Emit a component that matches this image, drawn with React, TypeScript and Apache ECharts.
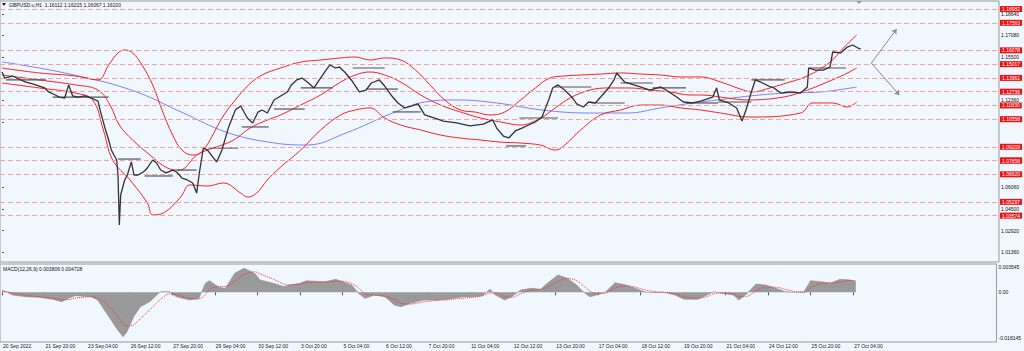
import React, { useEffect, useRef } from "react";
import * as echarts from "echarts";

const TITLE = "GBPUSD.u,H1  1.16112 1.16215 1.16067 1.16100";
const MACD_TITLE = "MACD(12,26,9) 0.003806 0.004728";
const TIME_LABELS = ["20 Sep 2022", "21 Sep 20:00", "23 Sep 04:00", "26 Sep 12:00", "27 Sep 20:00", "29 Sep 04:00", "30 Sep 12:00", "3 Oct 20:00", "5 Oct 04:00", "6 Oct 12:00", "7 Oct 20:00", "11 Oct 04:00", "12 Oct 12:00", "13 Oct 20:00", "17 Oct 04:00", "18 Oct 12:00", "19 Oct 20:00", "21 Oct 04:00", "24 Oct 12:00", "25 Oct 20:00", "27 Oct 04:00"];
const BARS_PER_LABEL = 32;
// visible price scale labels (the others are hidden under the red level tags)
const PRICE_TICKS = [1.1864, 1.1708, 1.155, 1.1236, 1.108, 1.0606, 1.045, 1.0292, 1.0136];
const RAISED_TICKS = [1.108];
const LEVELS = [1.18982, 1.17563, 1.16078, 1.15017, 1.13961, 1.12736, 1.1183, 1.10558, 1.09209, 1.08321, 1.07658, 1.0662, 1.05297, 1.03574];
const MACD_TICKS = [0.00344, 0, -0.0062];
const MACD_TICK_TEXT = ["0.003545", "0.00", "-0.018145"];

// [bar, price]
const PRICE = [[0,1.1443],[2,1.1399],[8,1.1414],[14,1.1385],[18,1.137],[23,1.1356],[28,1.1341],[32,1.1327],[35,1.1298],[40,1.1276],[43,1.1261],[47,1.1254],[50,1.1349],[53,1.1269],[57,1.1261],[62,1.1269],[67,1.1254],[72,1.1232],[74,1.1152],[77,1.1044],[80,1.0949],[82,1.0877],[84,1.084],[86,1.0804],[87,1.0695],[88,1.0332],[89,1.055],[92,1.0659],[94,1.0695],[97,1.079],[99,1.0695],[102,1.0695],[106,1.0717],[109,1.0746],[113,1.0804],[116,1.0782],[119,1.0731],[123,1.071],[128,1.0731],[131,1.0717],[135,1.0673],[139,1.0659],[143,1.0637],[146,1.0564],[148,1.071],[151,1.0891],[154,1.0877],[158,1.0826],[161,1.079],[165,1.0877],[170,1.1044],[175,1.1167],[179,1.1196],[184,1.1109],[188,1.1073],[192,1.1152],[195,1.1167],[199,1.1145],[204,1.124],[209,1.1269],[214,1.1298],[217,1.1349],[221,1.1385],[225,1.1399],[229,1.137],[234,1.1327],[238,1.1385],[243,1.1457],[246,1.1494],[250,1.1472],[253,1.1479],[257,1.1443],[262,1.1385],[268,1.1298],[273,1.1312],[277,1.1363],[283,1.1385],[287,1.1341],[293,1.1261],[297,1.1218],[302,1.1182],[307,1.1196],[312,1.1211],[317,1.1131],[324,1.1109],[331,1.1087],[341,1.1073],[351,1.1051],[361,1.1065],[368,1.1095],[371,1.1036],[376,1.0978],[380,1.0964],[385,1.1015],[390,1.1036],[395,1.1058],[400,1.108],[405,1.1116],[410,1.124],[413,1.1327],[417,1.1349],[422,1.1312],[428,1.1254],[431,1.1211],[436,1.1189],[440,1.1225],[445,1.1218],[449,1.1261],[455,1.1327],[459,1.1385],[461,1.1436],[467,1.137],[474,1.1349],[481,1.1327],[486,1.1312],[494,1.1334],[498,1.1312],[506,1.1261],[511,1.1225],[518,1.1218],[524,1.1232],[533,1.1261],[536,1.1327],[538,1.124],[545,1.1218],[551,1.1182],[555,1.1087],[558,1.1167],[562,1.1298],[565,1.1385],[569,1.137],[575,1.1341],[579,1.1327],[584,1.129],[591,1.1298],[599,1.129],[604,1.1334],[605,1.1472],[610,1.1457],[616,1.1457],[621,1.1479],[623,1.1588],[629,1.1581],[634,1.1624],[638,1.1639],[642,1.1617],[644,1.161]];

const BB_UPPER = [[0,1.1472],[28,1.1436],[55,1.1414],[72,1.1385],[80,1.1494],[87,1.1581],[92,1.1603],[98,1.1581],[105,1.1494],[113,1.1349],[120,1.1167],[128,1.0985],[135,1.0876],[143,1.084],[149,1.0855],[156,1.0949],[165,1.1109],[175,1.124],[185,1.1349],[195,1.1421],[209,1.1472],[224,1.1515],[239,1.153],[254,1.1545],[265,1.1552],[276,1.153],[287,1.1545],[299,1.153],[310,1.1458],[321,1.1349],[332,1.124],[344,1.1167],[355,1.1152],[366,1.1131],[377,1.1152],[389,1.124],[400,1.1327],[411,1.1399],[422,1.1414],[434,1.1421],[449,1.1428],[464,1.1436],[479,1.1428],[494,1.1421],[509,1.1407],[524,1.1407],[539,1.137],[556,1.1312],[563,1.1298],[576,1.1327],[586,1.1356],[604,1.1414],[621,1.1515],[631,1.1617],[641,1.1712]];
const BB_MIDDLE = [[0,1.1421],[28,1.1385],[55,1.1349],[72,1.1312],[81,1.1203],[88,1.1058],[98,1.0949],[111,1.084],[124,1.0746],[133,1.0731],[146,1.084],[154,1.0876],[169,1.0927],[176,1.0963],[186,1.1036],[199,1.1094],[209,1.1131],[224,1.1203],[239,1.1276],[254,1.137],[265,1.1421],[276,1.1443],[287,1.1421],[299,1.137],[314,1.1276],[329,1.1203],[344,1.1152],[359,1.1109],[374,1.108],[389,1.1058],[404,1.1109],[415,1.1182],[426,1.1254],[441,1.1312],[456,1.1327],[471,1.1327],[486,1.1312],[501,1.1298],[516,1.1276],[524,1.1276],[544,1.1254],[559,1.124],[586,1.1261],[604,1.1312],[619,1.137],[631,1.1421],[641,1.1472]];
const BB_LOWER = [[0,1.1363],[28,1.1327],[55,1.129],[68,1.124],[76,1.1022],[83,1.0804],[96,1.0659],[109,1.0492],[113,1.0405],[121,1.0419],[134,1.0535],[141,1.0623],[154,1.0615],[166,1.0637],[179,1.0564],[184,1.0535],[191,1.0564],[199,1.0659],[209,1.0753],[224,1.0876],[239,1.1022],[254,1.1131],[265,1.1167],[276,1.1182],[287,1.1109],[299,1.1058],[314,1.1022],[329,1.0985],[344,1.0963],[359,1.0949],[374,1.0934],[389,1.0927],[404,1.0912],[415,1.0876],[422,1.0912],[434,1.1022],[449,1.1131],[464,1.1167],[479,1.1203],[494,1.1203],[509,1.1182],[524,1.1167],[539,1.1145],[561,1.1116],[599,1.1145],[608,1.1218],[623,1.1218],[634,1.1189],[641,1.1225]];
const MA_SLOW = [[0,1.1516],[47,1.1436],[97,1.1312],[136,1.1145],[170,1.1],[204,1.0928],[229,1.0913],[258,1.1],[293,1.1145],[317,1.1225],[341,1.124],[371,1.1218],[405,1.1167],[440,1.1145],[469,1.1145],[494,1.1182],[518,1.1218],[537,1.124],[561,1.1269],[587,1.129],[614,1.1298],[641,1.1334]];

// [startBar, endBar, price]
const SEGMENTS = [[3,33,1.1385],[38,80,1.1261],[87,104,1.0811],[107,128,1.0688],[131,146,1.0731],[155,177,1.0891],[180,200,1.1044],[204,227,1.1174],[224,248,1.1327],[263,287,1.1472],[273,297,1.1319],[293,314,1.1153],[378,393,1.0906],[388,417,1.1109],[415,442,1.1334],[442,467,1.1218],[464,488,1.1363],[488,513,1.1327],[513,537,1.1218],[537,562,1.1225],[562,587,1.1385],[606,633,1.1472]];

const MACD_MAIN = [[0,0.00022],[3,0.00009],[8,-0.00037],[18,-0.0006],[28,-0.00068],[38,-0.00095],[45,-0.00127],[50,-0.00082],[55,-0.00046],[67,-0.0006],[72,-0.00105],[77,-0.00241],[82,-0.00377],[87,-0.00513],[91,-0.00604],[94,-0.00536],[99,-0.00332],[104,-0.00196],[111,-0.00128],[119,0.00008],[126,0.00008],[131,-0.0006],[141,-0.00105],[148,-0.00082],[153,0.00122],[156,0.00158],[163,0.00068],[168,0.00054],[175,0.00258],[182,0.00326],[190,0.00258],[194,0.00167],[204,0.00122],[212,0.00077],[216,0.00099],[224,0.00122],[229,0.00158],[239,0.00144],[243,0.00144],[251,0.00176],[256,0.00144],[263,0.00099],[268,-0.00014],[273,-0.00082],[280,-0.00037],[288,-0.0006],[295,-0.00173],[300,-0.00196],[307,-0.0015],[317,-0.00105],[327,-0.00105],[336,-0.00091],[346,-0.0006],[353,-0.0006],[361,-0.00046],[367,0.00041],[371,-0.00037],[378,-0.00105],[383,-0.0006],[390,0.00031],[398,0.00054],[405,0.00041],[410,0.00122],[418,0.00235],[425,0.0019],[432,0.00099],[437,0.00008],[442,-0.0006],[447,-0.00037],[454,0.00008],[461,0.00131],[469,0.00099],[476,0.00054],[484,0],[491,-0.00005],[498,0],[506,-0.00037],[513,-0.00095],[523,-0.00095],[530,-0.00037],[535,0.00008],[542,-0.00014],[550,-0.00037],[554,-0.00105],[559,-0.00037],[567,0.00113],[574,0.00099],[582,0.00054],[589,0.00008],[596,0],[603,0.00008],[608,0.00158],[616,0.00144],[623,0.00122],[630,0.00176],[638,0.00167],[642,0.00144]];
const MACD_SIGNAL = [[0,0.0002],[8,-0.0001],[18,-0.0004],[28,-0.0006],[38,-0.0008],[45,-0.001],[50,-0.001],[55,-0.0008],[67,-0.0006],[72,-0.0008],[77,-0.0013],[82,-0.0022],[87,-0.0033],[91,-0.0042],[94,-0.0046],[99,-0.0044],[104,-0.0036],[111,-0.0024],[119,-0.001],[126,-0.0002],[131,-0.0003],[141,-0.0008],[148,-0.0009],[153,-0.0003],[156,0.0004],[163,0.0008],[168,0.0008],[175,0.0015],[182,0.0024],[190,0.0028],[194,0.0025],[204,0.0018],[212,0.0011],[216,0.001],[224,0.0011],[229,0.0013],[239,0.0014],[243,0.0014],[251,0.0015],[256,0.0015],[263,0.0012],[268,0.0006],[273,-0.0002],[280,-0.0004],[288,-0.0005],[295,-0.001],[300,-0.0015],[307,-0.0016],[317,-0.0013],[327,-0.0011],[336,-0.001],[346,-0.0008],[353,-0.0007],[361,-0.0005],[367,-0.0001],[371,-0.0001],[378,-0.0006],[383,-0.0007],[390,-0.0002],[398,0.0003],[405,0.0004],[410,0.0007],[418,0.0015],[425,0.0019],[432,0.0016],[437,0.0009],[442,0.0002],[447,-0.0002],[454,-0.0001],[461,0.0006],[469,0.0009],[476,0.0007],[484,0.0003],[491,0.0001],[498,0],[506,-0.0002],[513,-0.0006],[523,-0.0008],[530,-0.0006],[535,-0.0002],[542,-0.0001],[550,-0.0002],[554,-0.0006],[559,-0.0006],[567,0.0002],[574,0.0007],[582,0.0007],[589,0.0004],[596,0.0001],[603,0],[608,0.0007],[616,0.0012],[623,0.0013],[630,0.0014],[638,0.0016],[642,0.0016]];

// forecast arrows: [fromBar, fromPrice, toBar, toPrice]
const ARROWS = [[652, 1.1508, 671, 1.1755], [652, 1.1508, 673, 1.1276]];

const FONT = "Liberation Sans";
const BG = "#F0F7FE";

export default function App() {
  const ref = useRef<HTMLDivElement>(null);
  useEffect(() => {
    document.body.style.margin = "0";
    const chart = echarts.init(ref.current!, null, { renderer: "svg" });
    const labelTicks = TIME_LABELS.map((_, i) => i * BARS_PER_LABEL);
    const xBase = { type: "value", min: -1.5, max: 747.75, splitLine: { show: false } };
    chart.setOption({
      animation: false,
      backgroundColor: BG,
      textStyle: { fontFamily: FONT },
      grid: [
        { left: 0, right: 25, top: 1, height: 261, show: true, borderColor: "#9a9a9a", borderWidth: 1, backgroundColor: BG },
        { left: 0, right: 25, top: 264, height: 78, show: true, borderColor: "#9a9a9a", borderWidth: 1, backgroundColor: BG },
      ],
      xAxis: [
        { ...xBase, gridIndex: 0, axisLine: { show: false }, axisTick: { show: false }, axisLabel: { show: false } },
        {
          ...xBase, gridIndex: 1, axisLine: { show: false },
          axisTick: { show: true, customValues: labelTicks, length: 3, lineStyle: { color: "#555" } },
          axisLabel: { show: true, customValues: labelTicks, formatter: (v: number) => TIME_LABELS[Math.round(v / BARS_PER_LABEL)] ?? "", align: "left", fontSize: 5, color: "#222", margin: 1, padding: [0, 0, 0, 1], hideOverlap: false },
        },
      ],
      yAxis: [
        {
          gridIndex: 0, type: "value", position: "right", min: 1.00634, max: 1.19584, splitLine: { show: false }, axisLine: { show: false },
          axisTick: { show: true, customValues: PRICE_TICKS, length: 2, lineStyle: { color: "#555" } },
          axisLabel: {
            customValues: PRICE_TICKS,
            formatter: (v: number) => (RAISED_TICKS.some((t) => Math.abs(t - v) < 1e-6) ? `{up|${v.toFixed(5)}}` : v.toFixed(5)),
            rich: { up: { fontSize: 5, color: "#111", padding: [0, 0, 7, 0], fontFamily: FONT } },
            fontSize: 5, color: "#111", margin: 2, lineHeight: 5,
          },
        },
        {
          gridIndex: 1, type: "value", position: "right", min: -0.00676, max: 0.00385, splitLine: { show: false }, axisLine: { show: false },
          axisTick: { show: false },
          axisLabel: { customValues: MACD_TICKS, formatter: (v: number) => MACD_TICK_TEXT[MACD_TICKS.findIndex((t) => Math.abs(t - v) < 1e-6)] ?? "", fontSize: 5, color: "#111", margin: 2 },
        },
      ],
      series: [
        {
          type: "line", xAxisIndex: 0, yAxisIndex: 0, data: [], z: 1,
          markLine: {
            silent: true, symbol: "none",
            lineStyle: { color: "#F4A3A3", width: 1, type: [5, 3] },
            label: { show: true, position: "end", distance: 1, formatter: "{b}", backgroundColor: "#F01010", color: "#fff", fontSize: 5, lineHeight: 5, padding: [0.5, 2, 0.5, 2], fontFamily: FONT },
            data: LEVELS.map((v) => ({ yAxis: v, name: v.toFixed(5) })),
          },
        },
        { type: "line", xAxisIndex: 0, yAxisIndex: 0, data: MA_SLOW, symbol: "none", smooth: 0.4, lineStyle: { color: "#8080F0", width: 1 }, z: 3 },
        { type: "line", xAxisIndex: 0, yAxisIndex: 0, data: BB_UPPER, symbol: "none", smooth: 0.4, lineStyle: { color: "#FF2020", width: 1 }, z: 3 },
        { type: "line", xAxisIndex: 0, yAxisIndex: 0, data: BB_MIDDLE, symbol: "none", smooth: 0.4, lineStyle: { color: "#FF2020", width: 1 }, z: 3 },
        { type: "line", xAxisIndex: 0, yAxisIndex: 0, data: BB_LOWER, symbol: "none", smooth: 0.4, lineStyle: { color: "#FF2020", width: 1 }, z: 3 },
        {
          type: "custom", xAxisIndex: 0, yAxisIndex: 0, data: SEGMENTS, z: 4, encode: { x: [0, 1], y: 2 },
          renderItem: (_p: any, api: any) => {
            const a = api.coord([api.value(0), api.value(2)]);
            const b = api.coord([api.value(1), api.value(2)]);
            return { type: "line", shape: { x1: a[0], y1: a[1], x2: b[0], y2: b[1] }, style: { stroke: "#555", lineWidth: 1.2 } };
          },
        },
        { type: "line", xAxisIndex: 0, yAxisIndex: 0, data: PRICE, symbol: "none", lineStyle: { color: "#333", width: 1.3 }, z: 5 },
        {
          type: "line", xAxisIndex: 0, yAxisIndex: 0, data: [], z: 5,
          markLine: {
            silent: true, symbol: ["none", "arrow"], symbolSize: 5,
            lineStyle: { color: "#8a8a8a", width: 1, type: "solid" }, label: { show: false },
            data: ARROWS.map((a) => [{ coord: [a[0], a[1]] }, { coord: [a[2], a[3]] }]),
          },
        },
        { type: "line", xAxisIndex: 1, yAxisIndex: 1, data: MACD_MAIN, symbol: "none", lineStyle: { color: "#8c8c8c", width: 0.6 }, areaStyle: { color: "#9a9a9a", opacity: 1 } },
        { type: "line", xAxisIndex: 1, yAxisIndex: 1, data: MACD_SIGNAL, symbol: "none", smooth: 0.3, lineStyle: { color: "#FF3030", width: 1, type: [1, 1] } },
      ],
      graphic: [
        { type: "polygon", shape: { points: [[2, 3], [6, 3], [4, 6]] }, style: { fill: "#222" } },
        { type: "text", left: 9, top: 2, style: { text: TITLE, fontSize: 5, fill: "#111", fontFamily: FONT } },
        { type: "text", left: 3, top: 266, style: { text: MACD_TITLE, fontSize: 5, fill: "#111", fontFamily: FONT } },
        { type: "polygon", shape: { points: [[856, 1], [862, 1], [859, 4]] }, style: { fill: "#999" } },
      ],
    });
    return () => chart.dispose();
  }, []);
  return <div ref={ref} style={{ width: 1024, height: 351 }} />;
}
